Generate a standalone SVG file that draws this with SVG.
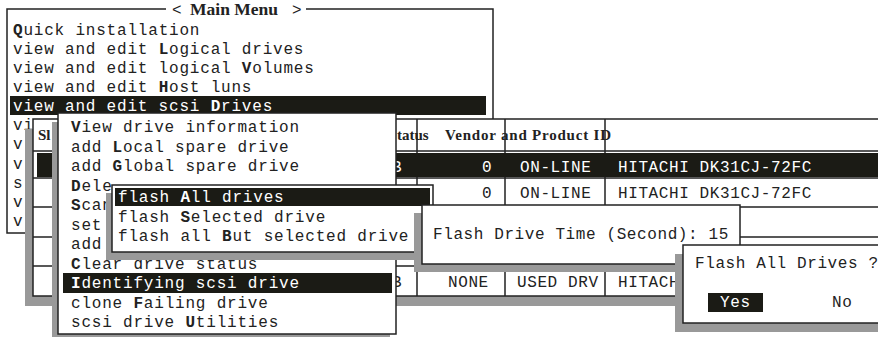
<svg xmlns="http://www.w3.org/2000/svg" width="878" height="337" viewBox="0 0 878 337">
<style>
.box{fill:#fff;stroke:#222;stroke-width:1.5}
.sh{fill:#999}
.hl{fill:#1b1b15}
.ln{stroke:#222;stroke-width:1.5;fill:none}
.t{font-family:"Liberation Mono",monospace;font-size:16px;letter-spacing:0.8px;fill:#222}
.d{letter-spacing:0.6px}
.w{fill:#fff}
.k{font-weight:bold}
.hd{font-family:"Liberation Serif",serif;font-weight:bold;font-size:15px;fill:#222}
</style>
<rect width="878" height="337" fill="#fff"/>

<g id="main-menu">
<rect class="box" x="7" y="9" width="486" height="224"/>
<rect x="166" y="3" width="140" height="12" fill="#fff"/>
<text class="t" x="172" y="15">&lt;</text>
<text class="hd" x="190" y="15" style="font-size:17.5px">Main Menu</text>
<text class="t" x="292" y="15">&gt;</text>
<text class="t" x="13" y="34.5"><tspan class="k">Q</tspan>uick installation</text>
<text class="t" x="13" y="53.6">view and edit <tspan class="k">L</tspan>ogical drives</text>
<text class="t" x="13" y="72.7">view and edit logical <tspan class="k">V</tspan>olumes</text>
<text class="t" x="13" y="91.8">view and edit <tspan class="k">H</tspan>ost luns</text>
<rect class="hl" x="10" y="96" width="476" height="19"/>
<text class="t w" x="13" y="110.9">view and edit scsi <tspan class="k">D</tspan>rives</text>
<text class="t" x="13" y="130">vi</text>
<text class="t" x="13" y="149">v</text>
<text class="t" x="13" y="168.5">v</text>
<text class="t" x="13" y="187.5">s</text>
<text class="t" x="13" y="206.5">v</text>
<text class="t" x="13" y="225.5">v</text>
</g>

<g id="drive-table">
<rect class="sh" x="25" y="129" width="870" height="177"/>
<rect class="box" x="33" y="119" width="870" height="177"/>
<path class="ln" d="M33 151H878M33 178H878M33 207H878M33 237H878M33 266H878M417 119V296M505 119V296M605 119V296"/>
<rect class="hl" x="37" y="153" width="841" height="24"/>
<text class="hd" x="38" y="140">Sl</text>
<text class="hd" x="397" y="140">tatus</text>
<text class="hd" x="445" y="140" textLength="166">Vendor and Product ID</text>
<text class="t d w" x="392" y="172">B</text>
<text class="t d w" x="482" y="172">0</text>
<text class="t d w" x="520" y="172">ON-LINE</text>
<text class="t d w" x="618" y="172">HITACHI DK31CJ-72FC</text>
<text class="t d" x="482" y="198">0</text>
<text class="t d" x="520" y="198">ON-LINE</text>
<text class="t d" x="618" y="198">HITACHI DK31CJ-72FC</text>
<text class="t d" x="392" y="287">B</text>
<text class="t d" x="448" y="287">NONE</text>
<text class="t d" x="517" y="287">USED DRV</text>
<text class="t d" x="618" y="287">HITACH</text>
</g>

<g id="drive-submenu">
<rect class="sh" x="52" y="122" width="338" height="221"/>
<rect class="box" x="58" y="113" width="338" height="221"/>
<text class="t" x="71" y="132"><tspan class="k">V</tspan>iew drive information</text>
<text class="t" x="71" y="151.5">add <tspan class="k">L</tspan>ocal spare drive</text>
<text class="t" x="71" y="171">add <tspan class="k">G</tspan>lobal spare drive</text>
<text class="t" x="71" y="190.5"><tspan class="k">D</tspan>ele</text>
<text class="t" x="71" y="210"><tspan class="k">S</tspan>can</text>
<text class="t" x="71" y="229.5">set</text>
<text class="t" x="71" y="249">add</text>
<text class="t" x="71" y="268.5"><tspan class="k">C</tspan>lear drive status</text>
<rect class="hl" x="63" y="273" width="329" height="20"/>
<text class="t w" x="71" y="288"><tspan class="k">I</tspan>dentifying scsi drive</text>
<text class="t" x="71" y="307.5">clone <tspan class="k">F</tspan>ailing drive</text>
<text class="t" x="71" y="327">scsi drive <tspan class="k">U</tspan>tilities</text>
</g>

<g id="flash-submenu">
<rect class="sh" x="106" y="193" width="321" height="67"/>
<rect class="box" x="112" y="185" width="321" height="67"/>
<rect class="hl" x="115" y="188" width="315" height="18"/>
<text class="t w" x="118" y="202">flash <tspan class="k">A</tspan>ll drives</text>
<text class="t" x="118" y="221.5">flash <tspan class="k">S</tspan>elected drive</text>
<text class="t" x="118" y="241">flash all <tspan class="k">B</tspan>ut selected drive</text>
</g>

<g id="time-dialog">
<rect class="sh" x="414" y="213" width="318" height="59"/>
<rect class="box" x="422" y="205" width="318" height="59"/>
<text class="t d" x="433" y="239">Flash Drive Time (Second): 15</text>
</g>

<g id="confirm-dialog">
<rect class="sh" x="675" y="254" width="220" height="78"/>
<rect class="box" x="683" y="245" width="220" height="78"/>
<text class="t d" x="695" y="268">Flash All Drives ?</text>
<rect class="hl" x="708" y="293" width="55" height="19"/>
<text class="t d w" x="720" y="307">Yes</text>
<text class="t d" x="832" y="307">No</text>
</g>
</svg>
